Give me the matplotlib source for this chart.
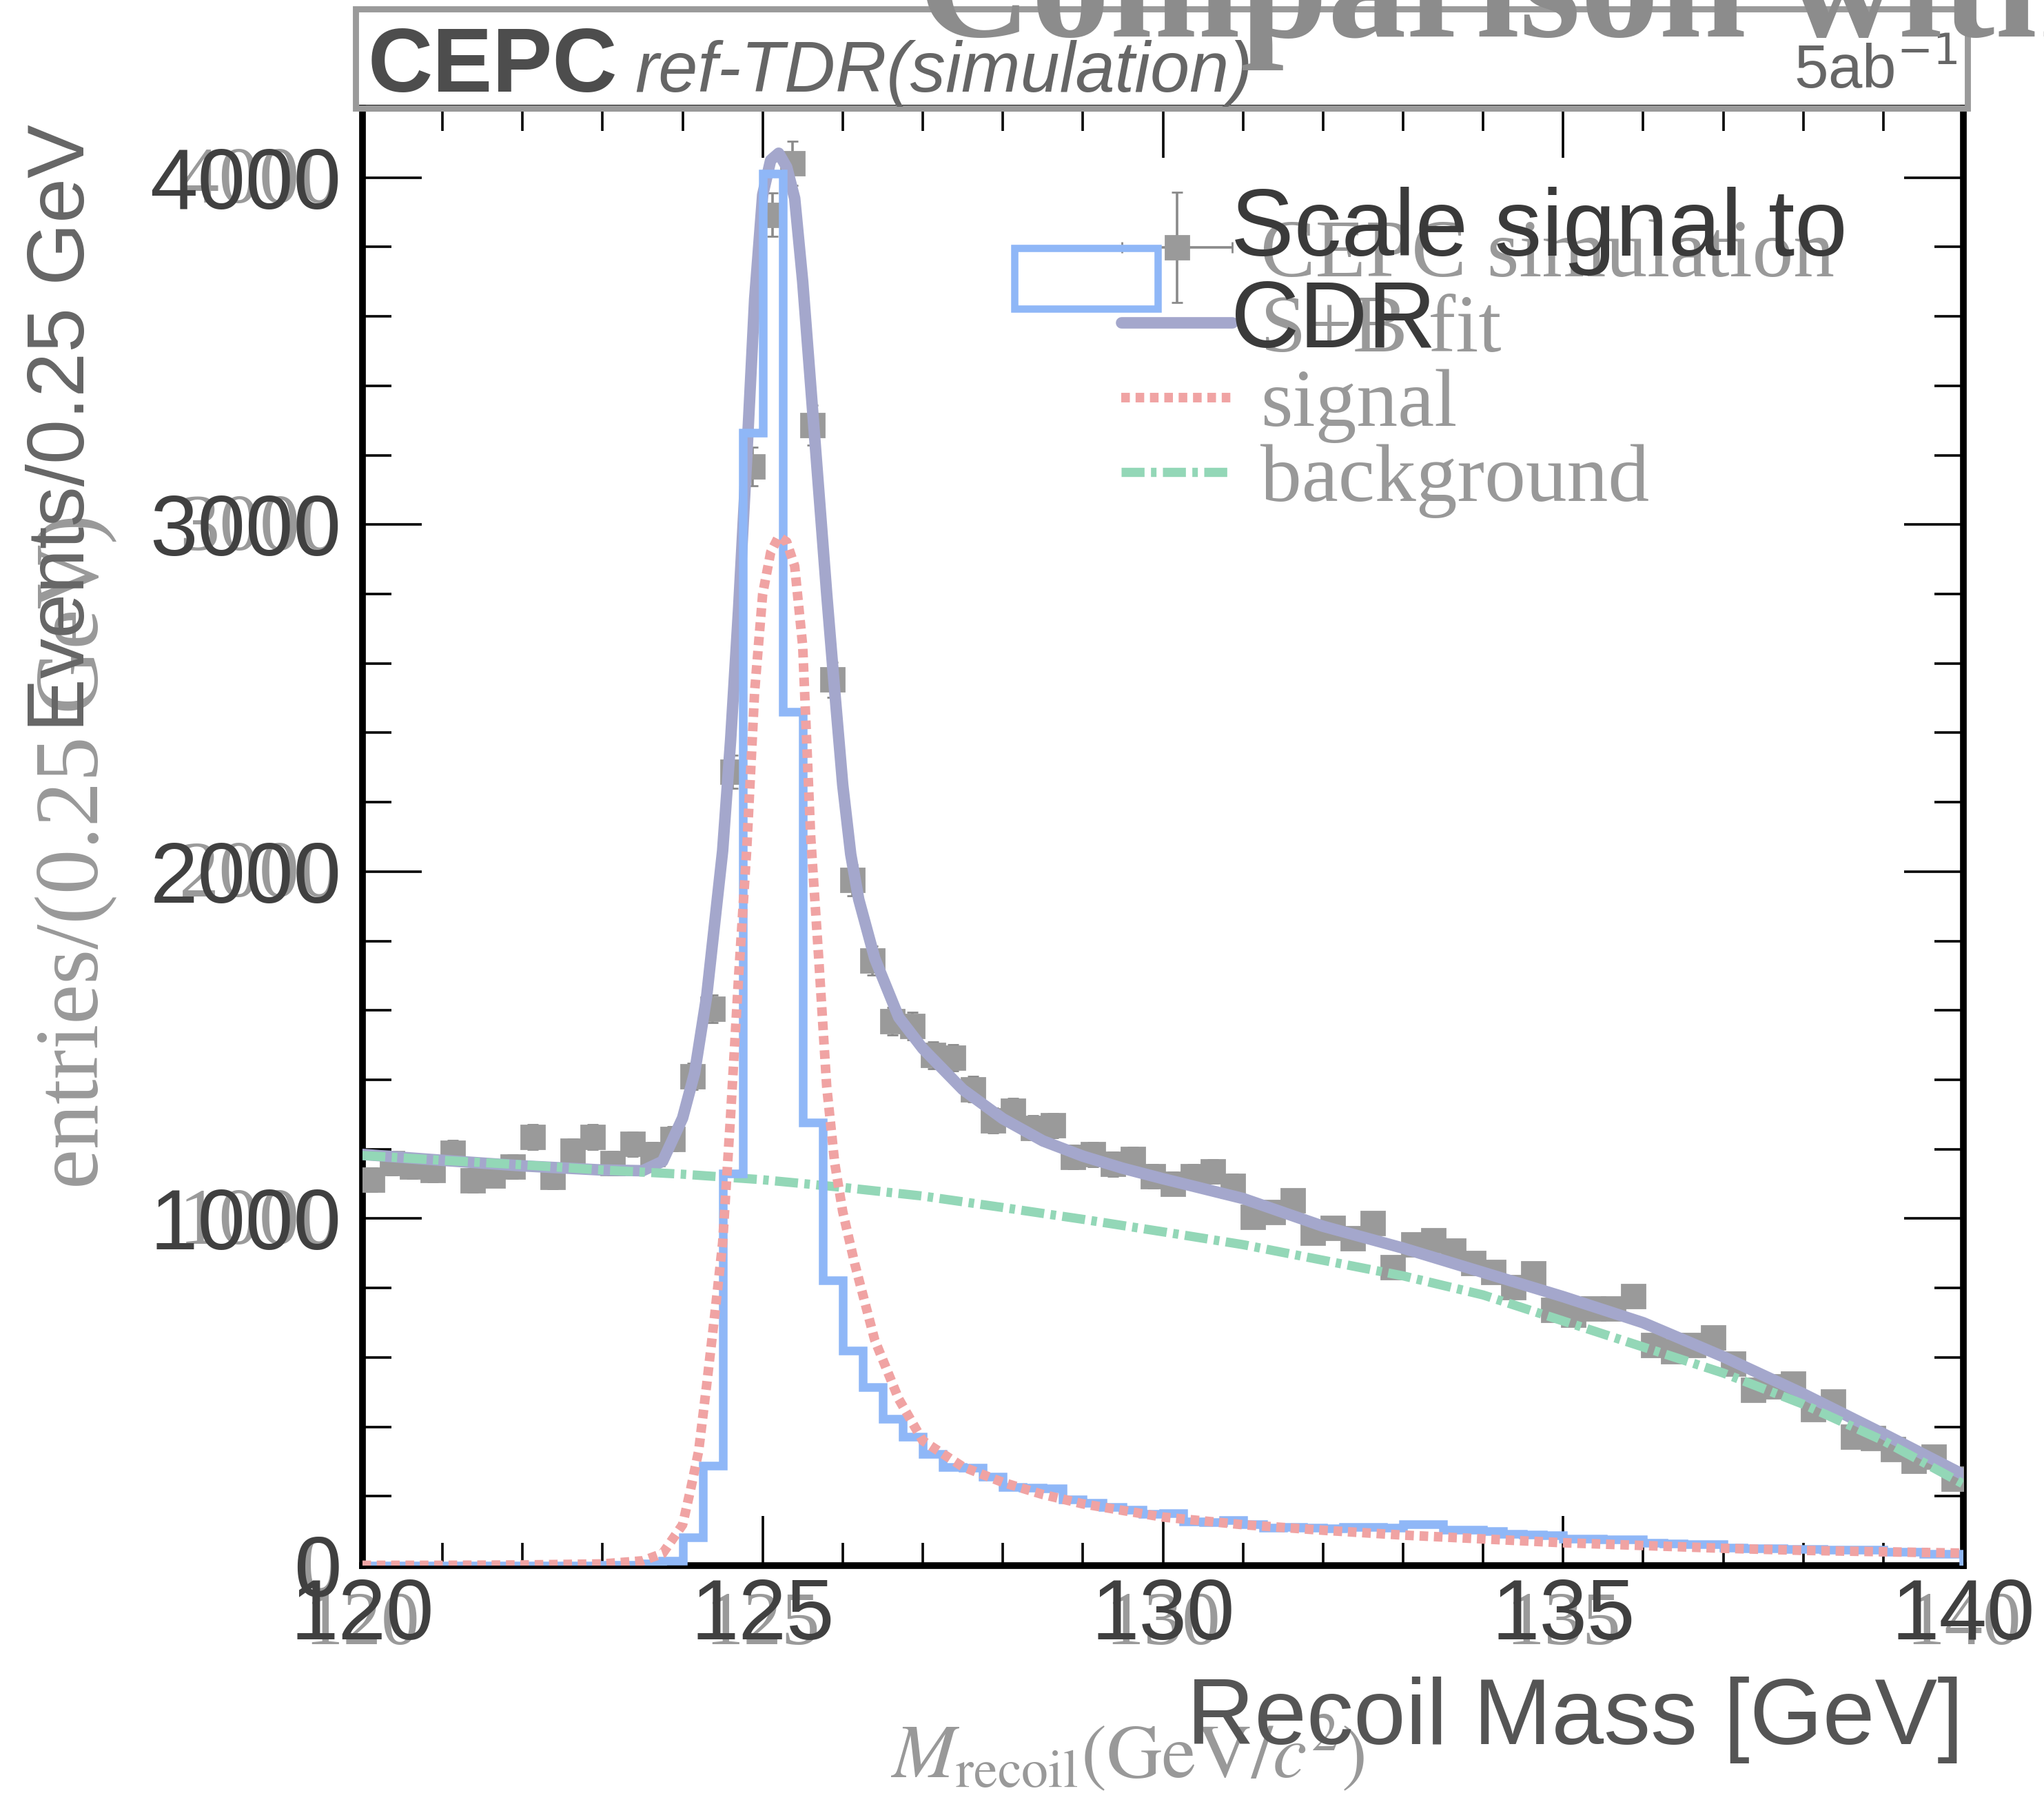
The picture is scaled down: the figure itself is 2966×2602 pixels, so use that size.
import numpy as np
import matplotlib
matplotlib.use("Agg")
import matplotlib.pyplot as plt
import matplotlib.patches as mpatches
import matplotlib.transforms as mtransforms
from matplotlib.legend_handler import HandlerErrorbar

plt.rcParams["font.family"] = ["Liberation Sans", "DejaVu Sans"]

# 0.25 GeV bins between 120 and 140 GeV
bin_edges = np.linspace(120.0, 140.0, 81)
bin_centers = 0.5 * (bin_edges[:-1] + bin_edges[1:])

# CEPC simulation (grey points)
sim_counts = [
    1112, 1160, 1150, 1140, 1190, 1110, 1125, 1150, 1235, 1120,
    1195, 1235, 1160, 1215, 1185, 1230, 1410, 1604, 2287, 3167,
    3893, 4040, 3286, 2553, 1975, 1744, 1569, 1555, 1471, 1464,
    1373, 1282, 1310, 1262, 1268, 1178, 1185, 1157, 1171, 1122,
    1101, 1122, 1136, 1094, 1004, 1018, 1052, 960, 974, 943,
    987, 859, 925, 938, 908, 872, 846, 802, 842, 736,
    723, 741, 741, 776, 635, 617, 635, 657, 582, 507,
    516, 525, 450, 472, 371, 367, 336, 301, 314, 250,
]

# signal scaled to CDR (blue histogram)
cdr_counts = [
    0, 0, 0, 0, 0, 0, 0, 0, 0, 0,
    0, 0, 2, 3, 6, 15, 82, 288, 1130, 3264,
    4012, 2461, 1276, 822, 619, 514, 424, 372, 322, 284,
    282, 256, 226, 224, 222, 190, 180, 168, 160, 150,
    152, 128, 126, 132, 120, 110, 112, 110, 108, 112,
    112, 110, 120, 120, 103, 103, 100, 92, 90, 88,
    78, 78, 76, 76, 65, 64, 62, 62, 52, 50,
    50, 48, 48, 46, 45, 45, 40, 40, 33, 33,
]

# S+B fit
fit_mass = [120, 121, 122, 123, 123.5, 123.75, 124.0, 124.15, 124.3, 124.4,
            124.5, 124.6, 124.7, 124.8, 124.9, 125.0, 125.1, 125.2, 125.3, 125.4,
            125.5, 125.6, 125.7, 125.8, 125.9, 126.0, 126.1, 126.2, 126.4, 126.7,
            127.0, 127.5, 128.0, 128.5, 129.0, 129.5, 130.0, 131.0, 132.0, 133.0,
            134.0, 135.0, 136.0, 137.0, 138.0, 139.0, 140.0]
fit_events = [1185, 1168, 1152, 1140, 1138, 1165, 1290, 1420, 1640, 1850,
              2060, 2380, 2760, 3190, 3650, 3950, 4050, 4070, 4030, 3940,
              3700, 3400, 3100, 2800, 2520, 2250, 2050, 1920, 1750, 1580,
              1490, 1372, 1288, 1224, 1180, 1145, 1115, 1058, 978, 915,
              845, 775, 700, 602, 495, 380, 262]

# signal component
sig_mass = [120, 121, 122, 123, 123.5, 123.75, 124.0, 124.1, 124.2, 124.3,
            124.4, 124.5, 124.6, 124.7, 124.8, 124.9, 125.0, 125.1, 125.2, 125.3,
            125.4, 125.5, 125.6, 125.7, 125.8, 125.9, 126.0, 126.15, 126.4, 126.7,
            127.0, 127.5, 128.0, 128.5, 129.0, 130.0, 131.0, 132.0, 133.0, 134.0,
            135.0, 136.0, 137.0, 138.0, 139.0, 140.0]
sig_events = [1, 1, 2, 5, 14, 35, 118, 220, 330, 520,
              720, 930, 1300, 1700, 2060, 2520, 2800, 2920, 2965, 2950,
              2880, 2650, 2100, 1750, 1380, 1160, 1020, 870, 650, 480,
              360, 285, 240, 205, 178, 140, 118, 102, 88, 77,
              66, 58, 50, 44, 40, 36]

# background component
bkg_mass = [120, 121, 122, 123, 124, 125, 126, 127, 128, 129, 130,
            131, 132, 133, 134, 135, 136, 137, 138, 139, 140]
bkg_events = [1182, 1168, 1155, 1140, 1128, 1112, 1090, 1065, 1032, 998, 962,
              925, 880, 835, 780, 705, 630, 555, 465, 360, 235]

x_major = [120, 125, 130, 135, 140]
y_major = [0, 1000, 2000, 3000, 4000]

grey_pts = "#9a9a9a"
fit_col = "#a4a7cc"
sig_col = "#f0a3a3"
bkg_col = "#93d7b7"
cdr_col = "#8fb7f7"
serif = "Liberation Serif"

fig = plt.figure(figsize=(14.83, 13.01), dpi=200)
ax = fig.add_axes([0.1773, 0.1268, 0.7833, 0.8129])

eb = ax.errorbar(bin_centers, sim_counts, xerr=0.125, yerr=np.sqrt(sim_counts),
                 fmt="s", ms=12, color=grey_pts, ecolor="#8a8a8a",
                 elinewidth=1.3, capsize=3, zorder=3)
fit_line, = ax.plot(fit_mass, fit_events, color=fit_col, lw=6,
                    solid_capstyle="round", zorder=4)
bkg_line, = ax.plot(bkg_mass, bkg_events, color=bkg_col, lw=4.8,
                    dashes=(2.5, 0.7, 0.6, 0.7), zorder=4.5)
ax.stairs(cdr_counts, bin_edges, color=cdr_col, lw=4.5, zorder=5)
sig_line, = ax.plot(sig_mass, sig_events, color=sig_col, lw=5,
                    dashes=(0.9, 0.6), zorder=6)

ax.set_xlim(120, 140)
ax.set_ylim(0, 4200)
ax.set_xticks(x_major)
ax.set_xticks(np.arange(120, 141, 1), minor=True)
ax.set_yticks(y_major)
ax.set_yticks(np.arange(0, 4201, 200), minor=True)
ax.tick_params(which="both", direction="in", top=True, right=True,
               width=1.3, color="black", labelcolor="#404040", labelsize=45)
ax.tick_params(axis="x", which="major", length=26, pad=6)
ax.tick_params(axis="x", which="minor", length=12)
ax.tick_params(axis="y", which="major", length=31, pad=11)
ax.tick_params(axis="y", which="minor", length=15)
for sp in ax.spines.values():
    sp.set_linewidth(3.5)
    sp.set_color("black")

# ghost tick labels of the overlaid (serif) plot
tx = mtransforms.blended_transform_factory(ax.transData, ax.transAxes)
for t in x_major:
    ax.text(t, -0.041, str(t), transform=tx, ha="center", va="center",
            family=serif, size=40, color="#9a9a9a", zorder=1)
ty = mtransforms.offset_copy(
    mtransforms.blended_transform_factory(ax.transAxes, ax.transData),
    fig=fig, y=-3, units="points")
for t in y_major:
    ax.text(-0.0138, t, str(t), transform=ty, ha="right", va="center",
            family=serif, size=42, color="#9a9a9a", zorder=1)

# axis titles
ax.set_ylabel("Events/0.25 GeV", size=42, color="#666666",
              ha="center", va="top", rotation_mode="default")
ax.yaxis.set_label_coords(-0.187, 0.989)
ax.set_xlabel("Recoil Mass [GeV]", size=49, color="#555555",
              ha="right", va="center")
ax.xaxis.set_label_coords(1.0, -0.106)

ax.text(-0.179, 0.490, "entries/(0.25 GeV)", transform=ax.transAxes,
        rotation=90, ha="center", va="center", family=serif, size=47,
        color="#999999", zorder=1)
ax.text(0.478, -0.1286, r"$M_{\mathrm{recoil}}(\mathrm{GeV}/c^{2})$",
        transform=ax.transAxes, ha="center", va="center", size=40,
        color="#999999", math_fontfamily="stix", zorder=1)

# legends
leg_b = ax.legend([eb, fit_line, sig_line, bkg_line],
                  ["CEPC simulation", "S+B fit", "signal", "background"],
                  loc="upper left", bbox_to_anchor=(0.474, 0.924),
                  frameon=False, prop={"family": serif, "size": 43},
                  labelcolor="#999999", handlelength=1.35, handletextpad=0.34,
                  labelspacing=0.0, borderpad=0, borderaxespad=0,
                  handler_map={eb: HandlerErrorbar(xerr_size=0.67)})
ax.add_artist(leg_b)

cdr_proxy = mpatches.Patch(facecolor="none", edgecolor=cdr_col, lw=3.8)
leg_a = ax.legend([cdr_proxy], ["Scale signal to\nCDR"], loc="upper left",
                  bbox_to_anchor=(0.4072, 0.946), frameon=False,
                  prop={"family": "Liberation Sans", "size": 49.5},
                  labelcolor="#3a3a3a", handlelength=1.515, handleheight=0.606,
                  handletextpad=0.77, borderpad=0, borderaxespad=0)
leg_a.get_texts()[0].set_linespacing(1.04)

# header box of the CEPC plot
fig.add_artist(mpatches.Rectangle((0.174, 0.9397), 0.7886, 0.0553,
                                  transform=fig.transFigure, fill=False,
                                  edgecolor="#9a9a9a", lw=3.2))
fig.text(0.180, 0.9489, "CEPC", size=47, weight="bold", color="#4d4d4d",
         ha="left", va="baseline")
fig.text(0.3105, 0.9489, "ref-TDR(simulation)", size=37, style="italic",
         color="#666666", ha="left", va="baseline")
fig.text(0.9575, 0.9508, r"5ab$^{-1}$", size=32, color="#666666",
         ha="right", va="baseline", math_fontfamily="dejavusans")

# title of the overlaid plot, cut by the top edge
fig.text(0.449, 0.9796, "Comparison with", family=serif, weight="bold",
         size=82, color="#8c8c8c", ha="left", va="baseline", zorder=10)

fig.savefig("out.png", dpi=200)
